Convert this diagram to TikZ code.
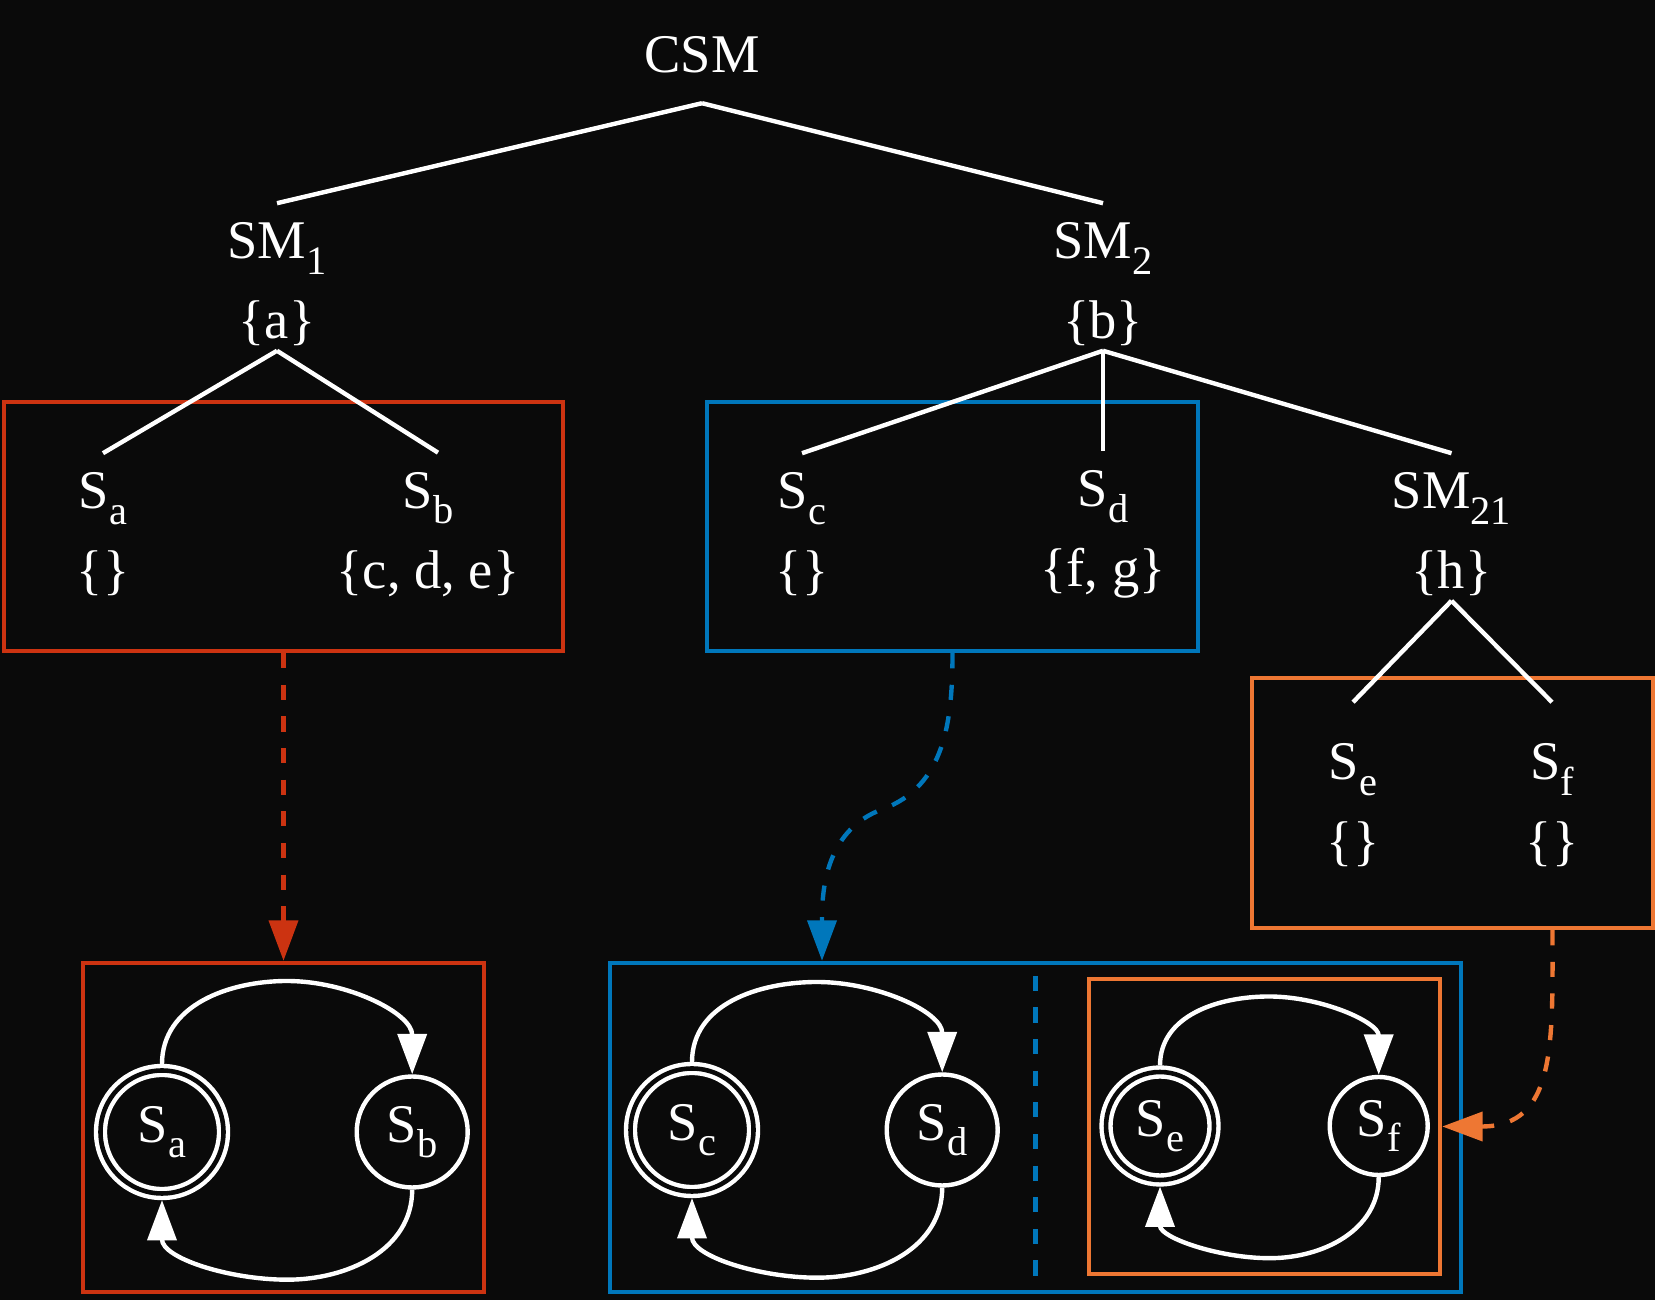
\documentclass[tikz,border=0pt]{standalone}
\usepackage{fontspec}
\setmainfont{Liberation Serif}
\usetikzlibrary{arrows.meta, positioning}

\definecolor{bgdark}{HTML}{0A0A0A}
\definecolor{tolred}{HTML}{CC3311}
\definecolor{tolblue}{HTML}{0077BB}
\definecolor{tolorange}{HTML}{EE7733}

\newcommand{\lowsub}[1]{\raisebox{-4.4pt}{\fontsize{11.5}{11.5}\selectfont #1}}

\begin{document}
\begin{tikzpicture}[
    	treenode/.style={align=center, inner sep=0pt, text=white, font=\fontsize{15.5}{22.7}\selectfont},
    	branch/.style={draw=white, line width=1.25pt},
    	groupbox/.style={rectangle, draw, line width=1.25pt, inner sep=0pt},
    	statenode/.style={circle, draw=white, line width=1.25pt, inner sep=0pt, text=white, font=\fontsize{15.5}{18}\selectfont},
    	finalstate/.style={double=bgdark, double distance=1.3pt, outer sep=0.065cm},
    	arrow/.style={draw=white, line width=1.25pt, -{Triangle[length=11.5pt, width=8.2pt]}},
    	dasharrow/.style={line width=1.25pt, dash pattern=on 4.3pt off 4.7pt, -{Triangle[length=11.5pt, width=8.2pt]}}
    	]
    	
    	% 背景
    	\useasboundingbox (0,0) rectangle (16.55,13);
    	\fill [bgdark] (0,0) rectangle (16.55,13);
    	
    	% 分组框
    	\node (groupab) [groupbox, draw=tolred, minimum width=5.59cm, minimum height=2.49cm] at (2.835,7.735) {};
    	\node (groupcd) [groupbox, draw=tolblue, minimum width=4.91cm, minimum height=2.49cm] at (9.525,7.735) {};
    	\node (groupef) [groupbox, draw=tolorange, minimum width=4.01cm, minimum height=2.50cm] at (14.525,4.97) {};
    	
    	% 树节点
    	\node (csm) [treenode, anchor=base] at (7.02,12.27) {CSM};
    	\node (smone) [treenode] at (2.77,10.155) {SM\lowsub{1}\\\{a\}};
    	\node (smtwo) [treenode] at (11.03,10.155) {SM\lowsub{2}\\\{b\}};
    	\node (sa) [treenode] at (1.03,7.655) {S\lowsub{a}\\\{\}};
    	\node (sb) [treenode] at (4.28,7.655) {S\lowsub{b}\\\{c, d, e\}};
    	\node (sc) [treenode] at (8.02,7.655) {S\lowsub{c}\\\{\}};
    	\node (sd) [treenode] at (11.03,7.655) {S\lowsub{d}\\\{f, g\}};
    	\node (smtwoone) [treenode] at (14.515,7.655) {SM\lowsub{21}\\\{h\}};
    	\node (se) [treenode] at (13.53,4.945) {S\lowsub{e}\\\{\}};
    	\node (sf) [treenode] at (15.52,4.945) {S\lowsub{f}\\\{\}};
    	
    	% 树连线
    	\draw [branch] ([yshift=-0.29cm]csm.south) -- ([yshift=0.19cm]smone.north);
    	\draw [branch] ([yshift=-0.29cm]csm.south) -- ([yshift=0.19cm]smtwo.north);
    	\draw [branch] ([yshift=-0.04cm]smone.south) -- ([yshift=0.19cm]sa.north);
    	\draw [branch] ([yshift=-0.04cm]smone.south) -- ([xshift=0.1cm,yshift=0.19cm]sb.north);
    	\draw [branch] ([yshift=-0.04cm]smtwo.south) -- ([yshift=0.19cm]sc.north);
    	\draw [branch] ([yshift=-0.04cm]smtwo.south) -- ([yshift=0.19cm]sd.north);
    	\draw [branch] ([yshift=-0.04cm]smtwo.south) -- ([yshift=0.19cm]smtwoone.north);
    	\draw [branch] ([yshift=-0.04cm]smtwoone.south) -- ([yshift=0.41cm]se.north);
    	\draw [branch] ([yshift=-0.04cm]smtwoone.south) -- ([yshift=0.41cm]sf.north);
    	
    	% 自动机框
    	\node (autoab) [groupbox, draw=tolred, minimum width=4.01cm, minimum height=3.29cm] at (2.835,1.725) {};
    	\node (autocd) [groupbox, draw=tolblue, minimum width=8.51cm, minimum height=3.29cm] at (10.355,1.725) {};
    	\node (autoef) [groupbox, draw=tolorange, minimum width=3.51cm, minimum height=2.95cm] at (12.645,1.735) {};
    	\draw [tolblue, line width=1.25pt, dash pattern=on 4.3pt off 4.7pt] ([yshift=-0.15cm]autocd.north) -- (autocd.south);
    	
    	% 状态
    	\node (statea) [statenode, finalstate, minimum size=1.23cm] at (1.62,1.68) {S\lowsub{a}};
    	\node (stateb) [statenode, minimum size=1.11cm, right=1.245cm of statea] {S\lowsub{b}};
    	\node (statec) [statenode, finalstate, minimum size=1.23cm] at (6.92,1.70) {S\lowsub{c}};
    	\node (stated) [statenode, minimum size=1.11cm, right=1.245cm of statec] {S\lowsub{d}};
    	\node (statee) [statenode, finalstate, minimum size=1.08cm] at (11.60,1.74) {S\lowsub{e}};
    	\node (statef) [statenode, minimum size=0.98cm, right=1.07cm of statee] {S\lowsub{f}};
    	
    	% 状态转移
    	\draw [arrow] (statea.north) to[out=90,in=180] ++(1.25,0.83) to[out=0,in=90] (stateb.north);
    	\draw [arrow] (stateb.south) to[out=-90,in=0] ++(-1.25,-0.9) to[out=180,in=-90] (statea.south);
    	\draw [arrow] (statec.north) to[out=90,in=180] ++(1.25,0.8) to[out=0,in=90] (stated.north);
    	\draw [arrow] (stated.south) to[out=-90,in=0] ++(-1.25,-0.9) to[out=180,in=-90] (statec.south);
    	\draw [arrow] (statee.north) to[out=90,in=180] ++(1.09,0.69) to[out=0,in=90] (statef.north);
    	\draw [arrow] (statef.south) to[out=-90,in=0] ++(-1.09,-0.81) to[out=180,in=-90] (statee.south);
    	
    	% 虚线箭头
    	\draw [dasharrow, tolred] (groupab.south) -- (autoab.north);
    	\draw [dasharrow, tolblue] (groupcd.south) to[out=-90,in=20] ++(-0.7,-1.56) to[out=200,in=90] ([xshift=-2.135cm]autocd.north);
    	\draw [dasharrow, tolorange] ([xshift=1cm]groupef.south) to[out=-90,in=0,looseness=1.3] (autoef.east);
    	
    \end{tikzpicture}
\end{document}
